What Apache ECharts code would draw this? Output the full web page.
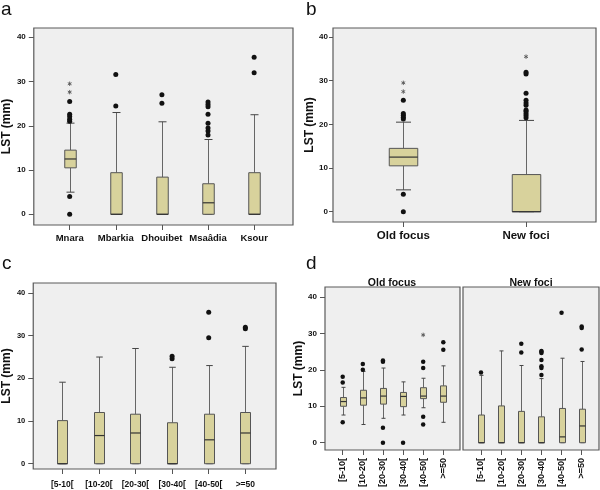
<!DOCTYPE html>
<html>
<head>
<meta charset="utf-8">
<script src="https://cdn.jsdelivr.net/npm/echarts@6/dist/echarts.min.js"></script>
<style>
html,body{margin:0;padding:0;background:#fff;}
#chart{width:600px;height:490px;}
</style>
</head>
<body>
<div id="chart"></div>
<script>
// ---------- DATA ----------
// box = [lower whisker, Q1, median, Q3, upper whisker]
const catsA = ['Mnara', 'Mbarkia', 'Dhouibet', 'Msaâdia', 'Ksour'];
const boxA = [[5.0,10.5,12.5,14.5,20.6],[0,0,0,9.4,23.0],[0,0,0,8.4,20.9],[0,0,2.6,6.9,16.9],[0,0,0,9.4,22.5]];
const outA = [[0,0],[0,4.0],[0,21.0],[0,21.5],[0,22.1],[0,22.6],[0,25.5],[1,24.5],[1,31.6],[2,25.1],[2,27.0],
  [3,17.9],[3,18.8],[3,19.5],[3,20.6],[3,22.6],[3,24.3],[3,24.8],[3,25.4],[4,32.0],[4,35.5]];
const extA = [[0,27.6],[0,29.5]];

const catsB = ['Old focus', 'New foci'];
const boxB = [[5.0,10.5,12.5,14.5,20.5],[0,0,0,8.5,20.9]];
const outB = [[0,0],[0,4.0],[0,21.2],[0,21.6],[0,22.1],[0,22.5],[0,25.5],
  [1,21.5],[1,22.0],[1,22.5],[1,23.0],[1,23.3],[1,24.4],[1,24.9],[1,25.5],[1,27.1],[1,31.5],[1,31.9]];
const extB = [[0,27.5],[0,29.5],[1,35.5]];

const catsAge = ['[5-10[', '[10-20[', '[20-30[', '[30-40[', '[40-50[', '>=50'];
const boxC = [[0,0,0,10.1,19.1],[0,0,6.6,12.0,25.0],[0,0,7.2,11.6,27.0],[0,0,0,9.6,22.6],[0,0,5.6,11.6,23.0],[0,0,7.2,12.0,27.5]];
const outC = [[3,24.6],[3,25.2],[4,29.5],[4,35.5],[5,31.6],[5,32.0]];
const extC = [];

const boxDold = [[7.6,10.0,11.3,12.4,15.2],[5.0,10.3,12.3,14.4,19.6],[6.7,10.6,12.8,14.9,20.5],[7.6,9.9,12.7,13.8,16.7],[9.6,12.1,12.8,15.1,17.7],[5.6,11.1,12.8,15.6,21.1]];
const outDold = [[0,5.6],[0,16.5],[0,18.1],[1,20.0],[1,21.6],[2,0],[2,4.1],[2,22.2],[2,22.6],[3,0],
  [4,5.0],[4,7.1],[4,20.5],[4,22.2],[5,25.5],[5,27.6]];
const extDold = [[4,29.6]];

const boxDnew = [[0,0,0,7.6,18.5],[0,0,0,10.1,25.2],[0,0,0,8.6,21.2],[0,0,0,7.1,17.6],[0,0,1.6,9.4,23.2],[0,0,4.6,9.2,22.3]];
const outDnew = [[0,19.3],[2,24.8],[2,27.2],[3,18.6],[3,20.5],[3,21.0],[3,22.7],[3,24.6],[3,25.0],[3,25.2],
  [4,35.7],[5,25.6],[5,31.5],[5,31.9]];
const extDnew = [];

const yTicks = [0, 10, 20, 30, 40];

// ---------- STYLE ----------
const FONT = 'Liberation Sans, Arial, sans-serif';
const BOX_FILL = '#d8d29c';
const LINE = '#555';

const grids = [], xAxes = [], yAxes = [], series = [];

function panel(cfg) {
  const gi = grids.length;
  grids.push({
    left: cfg.left, top: cfg.top, width: cfg.width, height: cfg.height,
    show: true, backgroundColor: '#efefef', borderColor: '#5a5a5a', borderWidth: 1.2
  });
  const idx = cfg.cats.map((c, i) => i);
  xAxes.push({
    type: 'value', gridIndex: gi, min: cfg.xmin, max: cfg.xmax, position: 'bottom',
    axisLine: { show: false, onZero: false },
    splitLine: { show: false },
    axisTick: { show: true, customValues: idx, length: 5, lineStyle: { color: LINE, width: 1 } },
    axisLabel: {
      customValues: idx, formatter: v => cfg.cats[Math.round(v)] || '',
      fontFamily: FONT, fontWeight: 'bold', fontSize: cfg.xFont, color: '#111',
      margin: cfg.xMargin, rotate: cfg.xRotate || 0
    }
  });
  yAxes.push({
    type: 'value', gridIndex: gi, min: cfg.ymin, max: cfg.ymax, position: 'left',
    axisLine: { show: false, onZero: false }, splitLine: { show: false },
    axisTick: { show: true, customValues: yTicks, length: cfg.yTick || 5, lineStyle: { color: LINE, width: 1 } },
    axisLabel: { customValues: yTicks, fontFamily: FONT, fontWeight: 'bold', fontSize: cfg.yFont, color: '#111', margin: cfg.yMargin || 8 },
    name: cfg.yName || '', nameLocation: 'middle', nameGap: cfg.nameGap || 20, nameRotate: 90,
    nameTextStyle: { fontFamily: FONT, fontWeight: 'bold', fontSize: 12, color: '#111' }
  });
  const bw = cfg.boxW, cw = cfg.capW;
  series.push({
    type: 'custom', xAxisIndex: gi, yAxisIndex: gi, silent: true,
    data: cfg.boxes.map((b, i) => [i].concat(b)),
    encode: { x: 0, y: [1, 2, 3, 4, 5] },
    renderItem: function (params, api) {
      const x = api.value(0);
      const p = [1, 2, 3, 4, 5].map(k => api.coord([x, api.value(k)]));
      const cx = Math.round(p[0][0]) + 0.5;
      const ln = (x1, y1, x2, y2, c, w) => ({ type: 'line', shape: { x1, y1, x2, y2 }, style: { stroke: c || LINE, lineWidth: w || 1 } });
      const ch = [];
      ch.push(ln(cx, p[0][1], cx, p[1][1], '#666'));
      ch.push(ln(cx, p[3][1], cx, p[4][1], '#666'));
      ch.push(ln(cx - cw / 2, p[0][1], cx + cw / 2, p[0][1], '#444'));
      ch.push(ln(cx - cw / 2, p[4][1], cx + cw / 2, p[4][1], '#444'));
      ch.push({ type: 'rect', shape: { x: cx - bw / 2, y: p[3][1], width: bw, height: Math.max(p[1][1] - p[3][1], 0) },
        style: { fill: BOX_FILL, stroke: '#555', lineWidth: 1 } });
      ch.push(ln(cx - bw / 2, p[2][1], cx + bw / 2, p[2][1], '#333', 1.2));
      return { type: 'group', children: ch };
    }
  });
  series.push({
    type: 'scatter', xAxisIndex: gi, yAxisIndex: gi, silent: true,
    data: cfg.out, symbol: 'circle', symbolSize: cfg.dot, itemStyle: { color: '#111', opacity: 1 }
  });
  if (cfg.ext.length) {
    series.push({
      type: 'custom', xAxisIndex: gi, yAxisIndex: gi, silent: true,
      data: cfg.ext, encode: { x: 0, y: 1 },
      renderItem: function (params, api) {
        const c = api.coord([api.value(0), api.value(1)]);
        const r = 2.2, s = r * 0.866, h = r * 0.5;
        const st = { stroke: '#555', lineWidth: 0.9 };
        return { type: 'group', children: [
          { type: 'line', shape: { x1: c[0], y1: c[1] - r, x2: c[0], y2: c[1] + r }, style: st },
          { type: 'line', shape: { x1: c[0] - s, y1: c[1] - h, x2: c[0] + s, y2: c[1] + h }, style: st },
          { type: 'line', shape: { x1: c[0] - s, y1: c[1] + h, x2: c[0] + s, y2: c[1] - h }, style: st }
        ]};
      }
    });
  }
}

panel({ left: 33, top: 28, width: 260, height: 197, xmin: -0.778, xmax: 4.843, ymin: -2.42, ymax: 42.1,
  cats: catsA, boxes: boxA, out: outA, ext: extA, boxW: 11.5, capW: 8, dot: 5,
  xFont: 9.5, xMargin: 8, yFont: 8, yMargin: 8, yName: 'LST (mm)', nameGap: 20 });
panel({ left: 333, top: 28, width: 263, height: 194, xmin: -0.573, xmax: 1.570, ymin: -2.36, ymax: 42.06,
  cats: catsB, boxes: boxB, out: outB, ext: extB, boxW: 28.5, capW: 15, dot: 5,
  xFont: 11.5, xMargin: 8, yFont: 8, yMargin: 5, yTick: 4, yName: 'LST (mm)', nameGap: 13 });
panel({ left: 33, top: 283, width: 243, height: 186, xmin: -0.791, xmax: 5.837, ymin: -1.24, ymax: 42.35,
  cats: catsAge, boxes: boxC, out: outC, ext: extC, boxW: 10, capW: 6.5, dot: 5,
  xFont: 8.5, xMargin: 11, yFont: 7.5, yMargin: 8, yName: 'LST (mm)', nameGap: 16 });
panel({ left: 325, top: 287, width: 135, height: 163, xmin: -0.88, xmax: 5.83, ymin: -2.0, ymax: 42.75,
  cats: catsAge, boxes: boxDold, out: outDold, ext: extDold, boxW: 6, capW: 4, dot: 4.5,
  xFont: 9, xMargin: 8, xRotate: 90, yFont: 8, yMargin: 8, yName: 'LST (mm)', nameGap: 19 });
panel({ left: 463, top: 287, width: 136, height: 163, xmin: -0.894, xmax: 5.86, ymin: -2.0, ymax: 42.75,
  cats: catsAge, boxes: boxDnew, out: outDnew, ext: extDnew, boxW: 6, capW: 4, dot: 4.5,
  xFont: 9, xMargin: 8, xRotate: 90, yFont: 8 });
// right panel of d shares the left axis: hide its y labels/ticks
yAxes[4].axisLabel.show = false;
yAxes[4].axisTick.show = false;

const letter = (t, x, y) => ({ type: 'text', left: x, top: y, silent: true,
  style: { text: t, font: '19px ' + FONT, fill: '#111' } });
const graphic = [
  letter('a', 1, 0), letter('b', 306, 0), letter('c', 2, 254), letter('d', 306, 254),
  { type: 'text', x: 392, y: 289, silent: true, style: { text: 'Old focus', font: 'bold 10.5px ' + FONT, fill: '#111', align: 'center', verticalAlign: 'bottom' } },
  { type: 'text', x: 531, y: 289, silent: true, style: { text: 'New foci', font: 'bold 10.5px ' + FONT, fill: '#111', align: 'center', verticalAlign: 'bottom' } }
];

const chart = echarts.init(document.getElementById('chart'), null, { renderer: 'canvas' });
chart.setOption({
  animation: false,
  backgroundColor: '#fff',
  grid: grids, xAxis: xAxes, yAxis: yAxes, series: series, graphic: graphic
});
</script>
</body>
</html>
